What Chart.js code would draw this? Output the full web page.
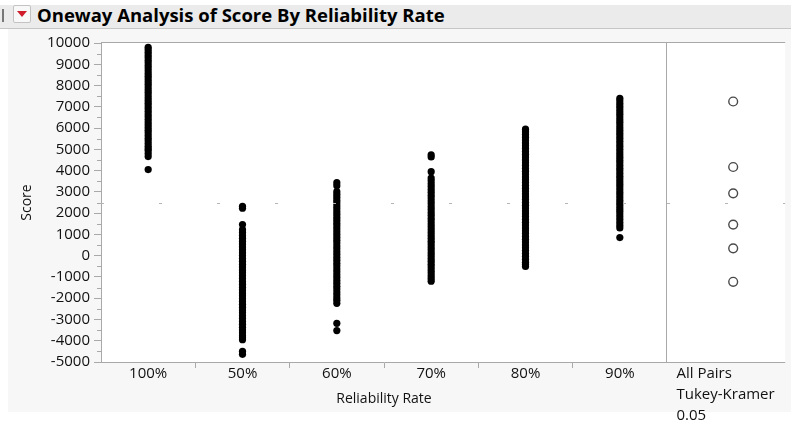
<!DOCTYPE html>
<html>
<head>
<meta charset="utf-8">
<script src="https://cdn.jsdelivr.net/npm/chart.js@4.4.1/dist/chart.umd.min.js"></script>
<style>
  html, body { margin: 0; padding: 0; background: #fff; }
  body { width: 791px; height: 426px; position: relative; overflow: hidden; font-family: "Open Sans", sans-serif; }
  #bar { position: absolute; left: 0; top: 5px; width: 791px; height: 23px; background: #ebebeb; border-bottom: 1px solid #c6c6c6; }
  #bar .pipe { position: absolute; left: 2px; top: 4px; width: 2px; height: 13px; background: #777; }
  #bar .btn { position: absolute; left: 13px; top: 0px; width: 16px; height: 16px; border: 1px solid #c3c3c3; border-radius: 2px; background: #f8f8f8; }
  #bar .btn:after { content: ""; position: absolute; left: 3px; top: 5px; border-left: 5px solid transparent; border-right: 5px solid transparent; border-top: 6px solid #d01c2a; }
  #bar .title { position: absolute; left: 37px; top: -1px; font-weight: bold; font-size: 18.5px; line-height: 22px; color: #000; white-space: nowrap; }
  #panel { position: absolute; left: 8px; top: 29px; width: 783px; height: 383px; background: #f7f7f7; }
  #mainWrap { position: absolute; left: 0; top: 30px; width: 672px; height: 396px; }
  #sideWrap { position: absolute; left: 660px; top: 30px; width: 131px; height: 396px; }
</style>
</head>
<body>
<div id="bar"><div class="pipe"></div><div class="btn"></div><div class="title">Oneway Analysis of Score By Reliability Rate</div></div>
<div id="panel"></div>
<div id="mainWrap"><canvas id="mainChart"></canvas></div>
<div id="sideWrap"><canvas id="sideChart"></canvas></div>
<script>
// ── 데이터 ──
const categories = ['100%', '50%', '60%', '70%', '80%', '90%'];

const score100 = [9800, 9690, 9570, 9440, 9320, 9190, 9070, 8940, 8820, 8690, 8560, 8440, 8310, 8180, 8060, 7930,
  7800, 7680, 7550, 7420, 7300, 7170, 7040, 6920, 6790, 6660, 6540, 6410, 6280, 6160, 6030, 5900, 5780, 5650,
  5520, 5400, 5270, 5140, 5030, 4940, 4800, 4660, 4050];
const score50 = [2320, 2230, 1460, 1220, 1090, 950, 820, 680, 550, 410, 280, 140, 10, -130, -260, -400, -530,
  -670, -800, -940, -1070, -1210, -1340, -1480, -1610, -1750, -1880, -2020, -2150, -2290, -2420, -2560, -2690,
  -2830, -2960, -3100, -3230, -3370, -3500, -3630, -3760, -3860, -3950, -4500, -4640];
const score60 = [3430, 3290, 3010, 2880, 2750, 2610, 2480, 2340, 2210, 2070, 1940, 1800, 1670, 1530, 1400, 1260,
  1130, 990, 860, 720, 590, 450, 320, 180, 50, -90, -220, -360, -490, -630, -760, -900, -1030, -1170, -1300,
  -1440, -1570, -1710, -1840, -1980, -2100, -2240, -3180, -3520];
const score70 = [4740, 4640, 3950, 3650, 3520, 3380, 3250, 3110, 2980, 2840, 2710, 2570, 2440, 2300, 2170, 2030,
  1900, 1760, 1630, 1490, 1360, 1220, 1090, 950, 820, 680, 550, 410, 280, 140, 10, -130, -260, -400, -530, -670,
  -800, -940, -1070, -1200];
const score80 = [5950, 5830, 5700, 5570, 5440, 5300, 5170, 5040, 4900, 4770, 4640, 4500, 4370, 4240, 4100, 3970,
  3840, 3700, 3570, 3440, 3300, 3170, 3040, 2900, 2770, 2640, 2500, 2370, 2240, 2100, 1970, 1840, 1700, 1570,
  1440, 1300, 1170, 1040, 900, 770, 640, 500, 370, 240, 100, -30, -170, -310, -420, -510];
const score90 = [7400, 7280, 7150, 7030, 6900, 6770, 6650, 6520, 6390, 6270, 6140, 6010, 5890, 5760, 5630, 5510,
  5380, 5250, 5130, 5000, 4870, 4750, 4620, 4490, 4370, 4240, 4110, 3990, 3860, 3730, 3610, 3480, 3350, 3230,
  3100, 2970, 2850, 2720, 2590, 2470, 2340, 2210, 2090, 1960, 1830, 1700, 1560, 1420, 1300, 850];

// Tukey-Kramer 비교 원 (그룹 평균)
const circleMeans = [7250, 4170, 2930, 1460, 345, -1230];
const grandMean = 2470;

const yMin = -5000, yMax = 10000, yStep = 1000;
const sideLabel = ['All Pairs', 'Tukey-Kramer', '0.05'];

// ── 스타일 ──
const AXIS = '#a9a9a9';
const TXT = '#111';
const FONT = { family: '"Open Sans", sans-serif', size: 15 };
const AXIS_H = 64;

const groups = [score100, score50, score60, score70, score80, score90];
const points = [];
groups.forEach((arr, i) => arr.forEach(v => points.push({ x: categories[i], y: v })));

// 흰 플롯 영역 + 위/오른쪽 테두리 + 평균선
const frame = {
  id: 'frame',
  beforeDraw(chart, args, opts) {
    const a = chart.chartArea, c = chart.ctx;
    c.save();
    c.fillStyle = '#fff';
    c.fillRect(a.left, a.top, a.right - a.left, a.bottom - a.top);
    c.restore();
  },
  afterDraw(chart, args, opts) {
    const a = chart.chartArea, c = chart.ctx;
    c.save();
    c.strokeStyle = AXIS; c.lineWidth = 1;
    c.beginPath();
    c.moveTo(a.left, a.top - 0.5); c.lineTo(a.right, a.top - 0.5);
    if (opts.right) { c.moveTo(a.right - 0.5, a.top); c.lineTo(a.right - 0.5, a.bottom); }
    if (opts.bottom) { c.moveTo(a.left, a.bottom + 0.5); c.lineTo(a.right, a.bottom + 0.5); }
    c.stroke();
    // 전체 평균 (점선)
    const y = Math.round(chart.scales.y.getPixelForValue(grandMean)) + 0.5;
    c.strokeStyle = '#b5b5b5';
    c.setLineDash([3, 55]);
    c.beginPath(); c.moveTo(a.left, y); c.lineTo(a.right, y); c.stroke();
    c.setLineDash([]);
    // 보조 눈금
    if (opts.minor) {
      const s = chart.scales.y;
      c.strokeStyle = AXIS;
      c.beginPath();
      for (let v = yMin + yStep / 2; v < yMax; v += yStep) {
        const py = Math.round(s.getPixelForValue(v)) + 0.5;
        c.moveTo(a.left - 4, py); c.lineTo(a.left, py);
      }
      c.stroke();
    }
    c.restore();
  }
};

new Chart(document.getElementById('mainChart'), {
  type: 'scatter',
  data: {
    labels: categories,
    datasets: [{ data: points, backgroundColor: '#000', borderWidth: 0, pointRadius: 3.6, pointHoverRadius: 3.6 }]
  },
  options: {
    responsive: true, maintainAspectRatio: false, animation: false,
    layout: { padding: { left: 0, top: 13, right: 5, bottom: 0 } },
    plugins: { legend: { display: false }, tooltip: { enabled: false }, frame: { right: true, minor: true } },
    scales: {
      x: {
        type: 'category', offset: true,
        grid: {
          offset: true, drawOnChartArea: false, drawTicks: true, tickLength: 6,
          tickColor: c => (c.index >= 1 && c.index <= 5) ? AXIS : 'rgba(0,0,0,0)'
        },
        border: { display: true, color: AXIS },
        ticks: { color: TXT, font: { ...FONT, lineHeight: 1.0 }, padding: -2, maxRotation: 0, autoSkip: false },
        title: { display: true, text: 'Reliability Rate', color: TXT, font: { ...FONT, size: 14, lineHeight: 1.2 }, padding: { top: 0, bottom: 19 } },
        afterFit: s => { s.height = AXIS_H; }
      },
      y: {
        min: yMin, max: yMax,
        grid: { drawOnChartArea: false, drawTicks: true, tickLength: 7, tickColor: AXIS },
        border: { display: true, color: AXIS },
        ticks: { stepSize: yStep, color: TXT, font: FONT, padding: 4, callback: v => String(v) },
        title: { display: true, text: 'Score', color: TXT, font: { ...FONT, size: 14, lineHeight: 1.2 }, padding: { top: 19, bottom: 0 } },
        afterFit: s => { s.width = 101; }
      }
    }
  },
  plugins: [frame]
});

new Chart(document.getElementById('sideChart'), {
  type: 'scatter',
  data: {
    datasets: [{
      data: circleMeans.map(v => ({ x: 0.56, y: v })),
      backgroundColor: 'rgba(255,255,255,0)', borderColor: '#4a4a4a', borderWidth: 1.4,
      pointRadius: 4.4, pointHoverRadius: 4.4
    }]
  },
  options: {
    responsive: true, maintainAspectRatio: false, animation: false,
    layout: { padding: { left: 7, top: 13, right: 0, bottom: 0 } },
    plugins: { legend: { display: false }, tooltip: { enabled: false }, frame: { bottom: true } },
    scales: {
      x: {
        type: 'linear', min: 0, max: 1,
        grid: { display: false },
        border: { display: false },
        afterBuildTicks: s => { s.ticks = [{ value: 0.08 }]; },
        ticks: { color: TXT, font: { ...FONT, size: 15, lineHeight: '21px' }, padding: -7, align: 'start', maxRotation: 0, autoSkip: false, callback: () => sideLabel },
        afterFit: s => { s.height = AXIS_H; }
      },
      y: { display: false, min: yMin, max: yMax }
    }
  },
  plugins: [frame]
});
</script>
</body>
</html>
